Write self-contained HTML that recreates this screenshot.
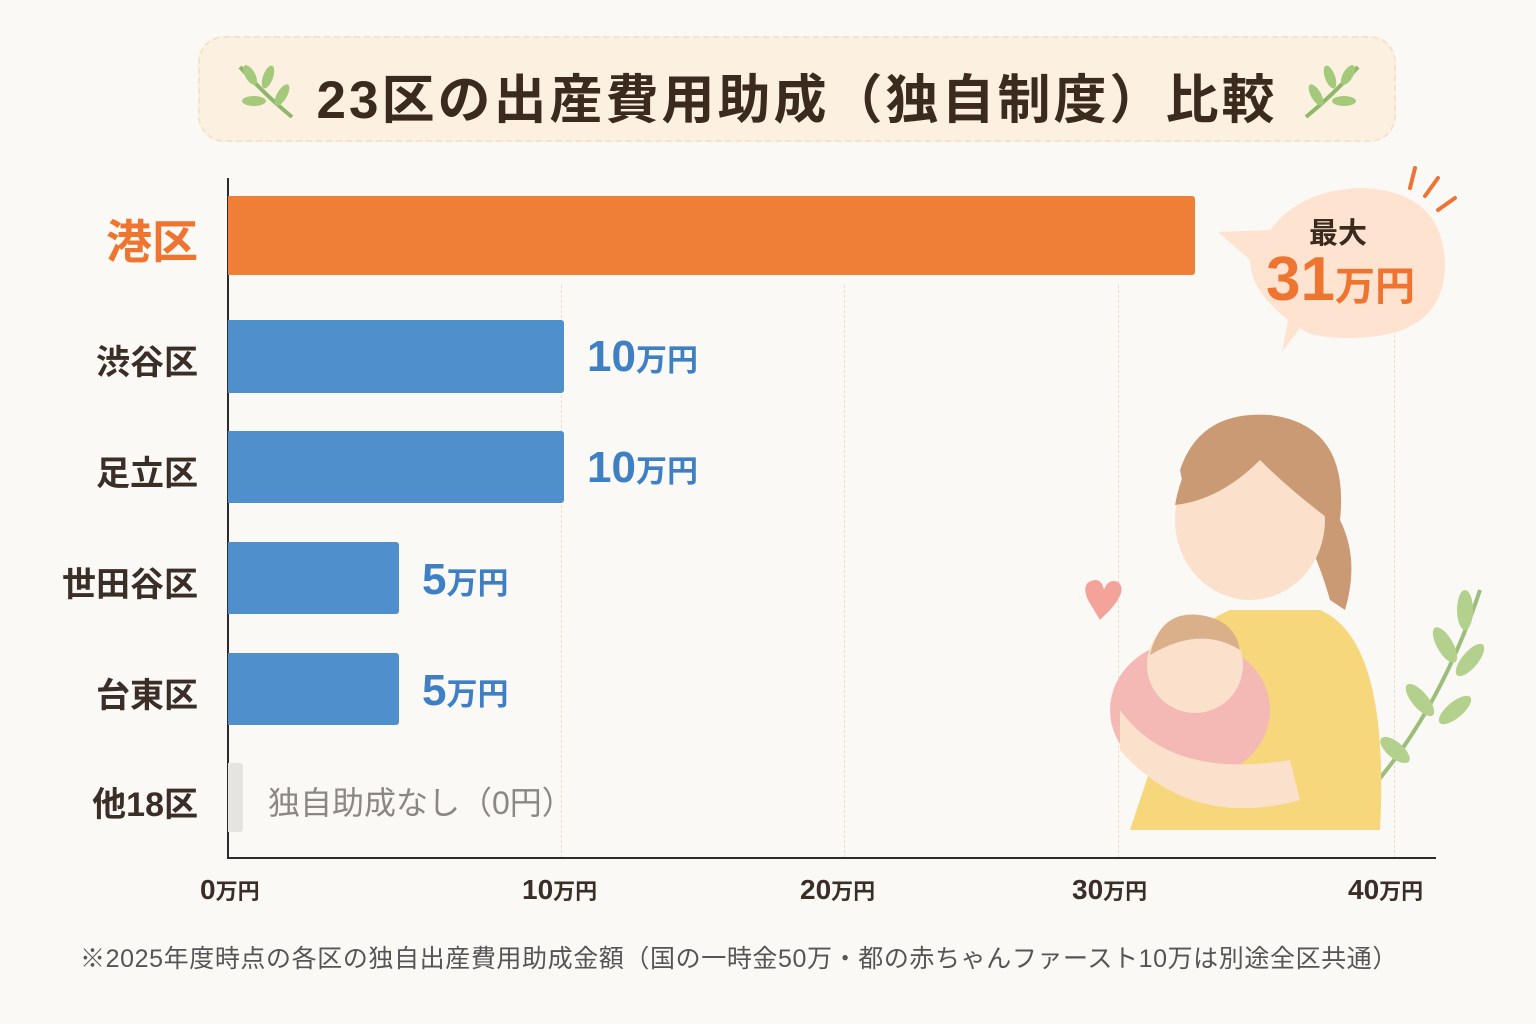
<!DOCTYPE html>
<html><head><meta charset="utf-8"><style>
body{margin:0;width:1536px;height:1024px;background:#fbf9f6;font-family:"Liberation Sans","Noto Sans CJK JP",sans-serif;position:relative;overflow:hidden;color:#3a2e26}
.a{position:absolute}
.title{left:198px;top:36px;width:1198px;height:106px;border-radius:26px;background:#fcf1e1;border:2px dashed #f4e3cc;box-sizing:border-box}
.tt{left:198px;top:58px;width:1198px;text-align:center;font-size:53px;font-weight:bold;color:#3b2b1f;letter-spacing:3px}
.bar{position:absolute;left:228px;background:#4f8fcc;border-radius:0 3px 3px 0}
.lab{position:absolute;right:1338px;font-size:34px;font-weight:bold;color:#3a2e26;white-space:nowrap}
.val{position:absolute;color:#3f80c4;font-weight:bold;font-size:44px}
.val small{font-size:31px}
.tick{position:absolute;top:874px;font-size:28px;font-weight:bold;color:#3a2e26}
.tick small{font-size:22px}
.grid{position:absolute;top:285px;height:573px;border-left:1px dashed #ecdcd0}
</style></head><body>
<div class="a title"></div>
<div class="a tt">23区の出産費用助成（独自制度）比較</div>
<svg class="a" style="left:230px;top:55px" width="70" height="70"><path d="M10 12 Q35 40 62 62" stroke="#8fb86a" stroke-width="4" fill="none"/><ellipse cx="20" cy="20" rx="5" ry="11" fill="#a4c97a" transform="rotate(-30 20 20)"/><ellipse cx="38" cy="22" rx="5" ry="12" fill="#a4c97a" transform="rotate(20 38 22)"/><ellipse cx="24" cy="46" rx="12" ry="5" fill="#a4c97a"/><ellipse cx="52" cy="40" rx="5" ry="12" fill="#a4c97a" transform="rotate(30 52 40)"/></svg>
<svg class="a" style="left:1298px;top:55px" width="70" height="70"><path d="M60 12 Q35 40 8 62" stroke="#8fb86a" stroke-width="4" fill="none"/><ellipse cx="50" cy="20" rx="5" ry="11" fill="#a4c97a" transform="rotate(30 50 20)"/><ellipse cx="32" cy="22" rx="5" ry="12" fill="#a4c97a" transform="rotate(-20 32 22)"/><ellipse cx="46" cy="46" rx="12" ry="5" fill="#a4c97a"/><ellipse cx="18" cy="40" rx="5" ry="12" fill="#a4c97a" transform="rotate(-30 18 40)"/></svg>

<div class="grid" style="left:561px"></div><div class="grid" style="left:844px"></div><div class="grid" style="left:1118px"></div><div class="grid" style="left:1394px"></div>
<div class="a" style="left:227px;top:178px;width:2px;height:681px;background:#2b2b2b"></div>
<div class="a" style="left:227px;top:857px;width:1209px;height:2px;background:#2b2b2b"></div>

<div class="bar" style="top:196px;height:79px;width:967px;background:#ef7f37"></div>
<div class="bar" style="top:320px;height:73px;width:336px"></div>
<div class="bar" style="top:431px;height:72px;width:336px"></div>
<div class="bar" style="top:542px;height:72px;width:171px"></div>
<div class="bar" style="top:653px;height:72px;width:171px"></div>
<div class="bar" style="top:763px;height:69px;width:15px;background:#e6e4e1"></div>

<div class="lab" style="top:206px;font-size:46px;color:#ee7430">港区</div>
<div class="lab" style="top:335px">渋谷区</div>
<div class="lab" style="top:446px">足立区</div>
<div class="lab" style="top:557px">世田谷区</div>
<div class="lab" style="top:668px">台東区</div>
<div class="lab" style="top:777px">他18区</div>

<div class="val" style="left:587px;top:332px">10<small>万円</small></div>
<div class="val" style="left:587px;top:443px">10<small>万円</small></div>
<div class="val" style="left:422px;top:555px">5<small>万円</small></div>
<div class="val" style="left:422px;top:666px">5<small>万円</small></div>
<div class="a" style="left:268px;top:778px;font-size:32px;color:#8a8785">独自助成なし（0円）</div>

<div class="tick" style="left:200px">0<small>万円</small></div>
<div class="tick" style="left:522px">10<small>万円</small></div>
<div class="tick" style="left:800px">20<small>万円</small></div>
<div class="tick" style="left:1072px">30<small>万円</small></div>
<div class="tick" style="left:1348px">40<small>万円</small></div>

<svg class="a" style="left:1210px;top:160px" width="260" height="200">
<path d="M8 72 L60 70 Q90 30 150 28 Q235 30 235 108 Q232 178 140 178 Q100 178 90 168 L72 192 L78 160 Q40 130 40 100 Z" fill="#fde3d0"/>
<path d="M205 8 L200 28 M228 18 L215 36 M245 38 L228 50" stroke="#ef7334" stroke-width="4" stroke-linecap="round"/>
</svg>
<div class="a" style="left:1309px;top:210px;font-size:29px;font-weight:bold;color:#3b2b1f">最大</div>
<div class="a" style="left:1266px;top:244px;font-size:62px;font-weight:bold;color:#ef7430">31<span style="font-size:40px">万円</span></div>

<svg class="a" style="left:1060px;top:410px" width="430" height="440">
<path d="M420 180 Q380 300 310 380" stroke="#9cbe7a" stroke-width="4" fill="none"/>
<g fill="#b3d18c"><ellipse cx="405" cy="200" rx="8" ry="20"/><ellipse cx="385" cy="235" rx="8" ry="20" transform="rotate(-30 385 235)"/><ellipse cx="410" cy="250" rx="8" ry="20" transform="rotate(40 410 250)"/><ellipse cx="360" cy="290" rx="8" ry="20" transform="rotate(-40 360 290)"/><ellipse cx="395" cy="300" rx="8" ry="20" transform="rotate(50 395 300)"/><ellipse cx="335" cy="340" rx="8" ry="18" transform="rotate(-50 335 340)"/></g>
<path d="M28 190 Q20 172 35 170 Q42 170 44 180 Q48 168 58 172 Q68 180 50 200 L40 210 Z" fill="#f3a39a"/>
<path d="M120 60 Q140 0 210 5 Q290 15 280 110 Q300 150 285 200 L270 190 Q250 120 220 90 Q170 80 130 110 Z" fill="#c99a73"/>
<ellipse cx="190" cy="110" rx="75" ry="80" fill="#fbe1cc"/>
<path d="M115 95 Q130 10 210 15 Q280 25 270 110 Q230 80 200 50 Q160 90 115 95Z" fill="#c99a73"/>
<path d="M90 360 Q80 240 170 200 L260 200 Q330 230 320 420 L70 420 Z" fill="#f6d77c"/>
<ellipse cx="130" cy="300" rx="80" ry="70" fill="#f4b8b5"/>
<ellipse cx="135" cy="255" rx="48" ry="48" fill="#fbe1cc"/>
<path d="M90 245 Q100 200 140 205 Q175 210 180 240 Q140 215 90 245Z" fill="#d9b08a"/>
<path d="M60 300 Q110 370 230 350 L240 390 Q130 420 60 340Z" fill="#fbe1cc"/>
</svg>

<div class="a" style="left:80px;top:939px;font-size:25px;letter-spacing:0.6px;color:#555;white-space:nowrap">※2025年度時点の各区の独自出産費用助成金額（国の一時金50万・都の赤ちゃんファースト10万は別途全区共通）</div>
</body></html>
